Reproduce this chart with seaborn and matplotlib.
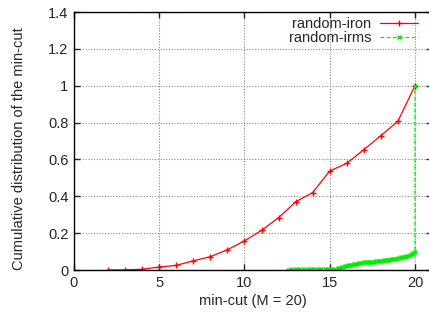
import seaborn as sns
import matplotlib.pyplot as plt
import pandas as pd

# min-cut distribution data
iron_x = [2, 3, 4, 5, 6, 7, 8, 9, 10, 11, 12, 13, 14, 15, 16, 17, 18, 19, 20]
iron_y = [0.0, 0.001, 0.004, 0.016, 0.025, 0.05, 0.072, 0.11, 0.158, 0.215, 0.284,
          0.37, 0.42, 0.537, 0.579, 0.653, 0.729, 0.807, 1.0]

irms_x = [12.55, 12.7, 12.85, 13.0, 13.2, 13.5, 13.7, 13.9, 14.1, 14.3, 14.5, 14.7,
          14.9, 15.0, 15.1, 15.3, 15.5, 15.6, 15.7, 15.8, 15.9, 16.0, 16.1, 16.2,
          16.3, 16.4, 16.5, 16.6, 16.7, 16.8, 16.9, 17.0, 17.1, 17.2, 17.3, 17.4,
          17.5, 17.6, 17.7, 17.8, 17.9, 18.0, 18.1, 18.2, 18.3, 18.4, 18.5, 18.6,
          18.7, 18.8, 18.9, 19.0, 19.1, 19.2, 19.3, 19.4, 19.5, 19.6, 19.7, 19.8,
          19.9, 20.0, 20.0]
irms_y = [0.002, 0.003, 0.002, 0.004, 0.003, 0.004, 0.003, 0.004, 0.005, 0.004, 0.006, 0.005,
          0.006, 0.007, 0.006, 0.007, 0.009, 0.012, 0.015, 0.017, 0.02, 0.022, 0.025, 0.027,
          0.029, 0.031, 0.033, 0.035, 0.036, 0.038, 0.039, 0.041, 0.042, 0.043, 0.044, 0.044,
          0.045, 0.046, 0.047, 0.048, 0.05, 0.05, 0.051, 0.053, 0.054, 0.055, 0.056, 0.058,
          0.059, 0.061, 0.062, 0.064, 0.066, 0.068, 0.07, 0.072, 0.075, 0.078, 0.081, 0.085,
          0.09, 0.098, 1.0]

x_ticks = [0, 5, 10, 15, 20]
y_ticks = [0, 0.2, 0.4, 0.6, 0.8, 1.0, 1.2, 1.4]
y_tick_labels = ['0', '0.2', '0.4', '0.6', '0.8', '1', '1.2', '1.4']

sns.set_style("ticks")
plt.rcParams['font.family'] = ['Liberation Sans', 'DejaVu Sans']
plt.rcParams['font.size'] = 10.5

fig = plt.figure(figsize=(4.29, 3.2), dpi=100)
# right border sits just outside the picture, like the original
ax = fig.add_axes([74 / 429, 50 / 320, 358 / 429, 258 / 320])

ax.plot(iron_x, iron_y, color='#ff0000', marker='+', markersize=4,
        markeredgewidth=1, linewidth=0.9, linestyle='-', label='random-iron')
ax.plot(irms_x, irms_y, color='#00ee00', marker='x', markersize=3,
        markeredgewidth=1, linewidth=0.9, linestyle=(0, (3, 2)), label='random-irms')

ax.set_xlim(0, 21)
ax.set_ylim(0, 1.4)
ax.set_xticks(x_ticks)
ax.set_yticks(y_ticks)
ax.set_yticklabels(y_tick_labels)
ax.grid(True, color='#888888', linestyle=(0, (1, 1.5)), linewidth=0.8)
ax.tick_params(direction='in', length=4, width=1, top=True, right=True, labelsize=10.5, pad=4)
for s in ax.spines.values():
    s.set_linewidth(1)
    s.set_color('black')

ax.set_xlabel('min-cut (M = 20)', fontsize=10.5, labelpad=3)
ax.set_ylabel('Cumulative distribution of the min-cut', fontsize=10.5)
ax.yaxis.set_label_coords(-0.135, 0.47)

leg = ax.legend(loc='upper right', frameon=False, markerfirst=False, fontsize=10.5,
                handlelength=2.6, handletextpad=0.6, labelspacing=0.0,
                bbox_to_anchor=(351 / 358, 1.01), borderaxespad=0.1)
for t in leg.get_texts():
    t.set_ha('right')

fig.savefig('out.png', dpi=100)
